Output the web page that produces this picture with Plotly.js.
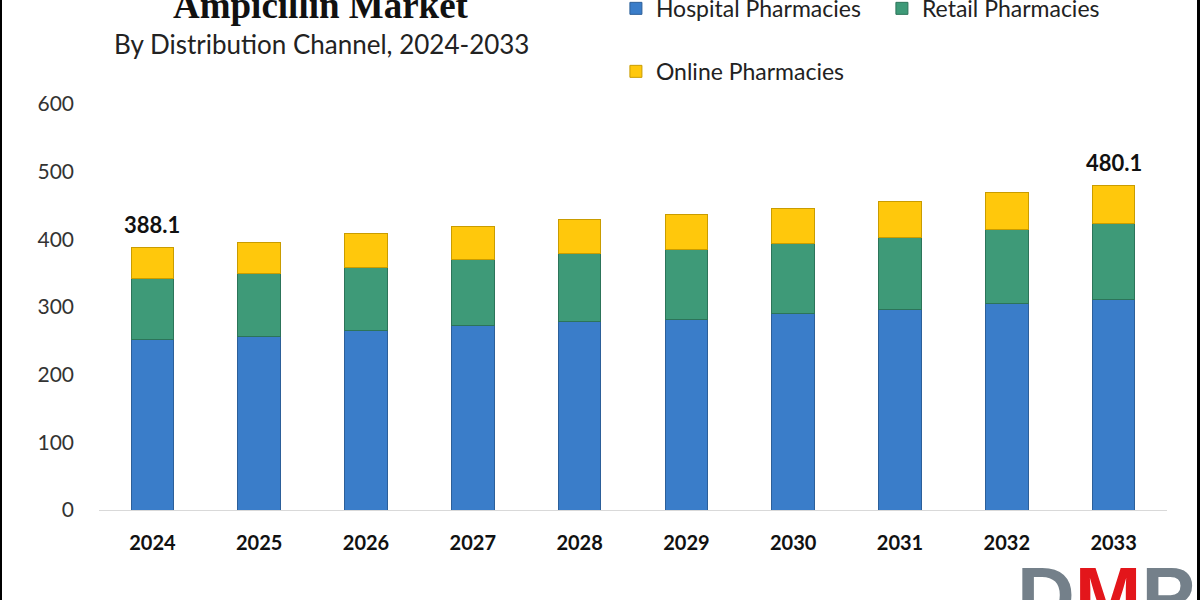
<!DOCTYPE html>
<html>
<head>
<meta charset="utf-8">
<script src="https://cdn.plot.ly/plotly-3.0.1.min.js"></script>
<style>html,body{margin:0;padding:0;background:#fff;}#chart{width:1200px;height:600px;}</style>
</head>
<body>
<div id="chart"></div>
<script>
const years = ['2024','2025','2026','2027','2028','2029','2030','2031','2032','2033'];
const hospital = [252, 256, 265, 273, 278, 282, 290, 296, 305, 311];
const retail   = [90, 93, 94, 97, 101, 103, 104, 107, 110, 113];
const online   = [46.1, 46, 49, 49, 50, 52, 52, 53, 54, 56.1];
const labelYears = ['2024', '2033'];
const labelTexts = ['388.1', '480.1'];
const yTicks = [0, 100, 200, 300, 400, 500, 600];

const FONT = 'Lato, "Open Sans", sans-serif';

const traces = [
  {type:'bar', name:'Hospital Pharmacies', x:years, y:hospital,
   marker:{color:'#3a7dc9', line:{color:'#2c5f99', width:1}}, legend:'legend'},
  {type:'bar', name:'Retail Pharmacies', x:years, y:retail,
   marker:{color:'#3e9a78', line:{color:'#2c7459', width:1}}, legend:'legend'},
  {type:'bar', name:'Online Pharmacies', x:years, y:online,
   marker:{color:'#ffc80c', line:{color:'#c99c00', width:1}}, legend:'legend2'}
];

const totals = years.map((_, i) => hospital[i] + retail[i] + online[i]);
const annotations = labelYears.map((yr, k) => ({
  x: years.indexOf(yr), y: totals[years.indexOf(yr)], xref:'x', yref:'y',
  text: '<b>' + labelTexts[k] + '</b>', showarrow:false,
  xanchor:'center', yanchor:'bottom', yshift:7,
  font:{family:FONT, size:22, color:'#111'}
}));

annotations.push({
  x:0.208, y:1.242, xref:'paper', yref:'paper', showarrow:false,
  text:'<b>Ampicillin Market</b>', xanchor:'center', yanchor:'middle',
  font:{family:'"Liberation Serif", "Times New Roman", serif', size:37, color:'#111'}
});
annotations.push({
  x:0.208, y:1.148, xref:'paper', yref:'paper', showarrow:false,
  text:'By Distribution Channel, 2024-2033', xanchor:'center', yanchor:'middle',
  font:{family:FONT, size:26, color:'#222'}
});
annotations.push({
  x:0.943, y:-0.095, xref:'paper', yref:'paper', showarrow:false,
  text:'<span style="color:#74808a">D</span><span style="color:#e3161b">M</span><span style="color:#74808a">P</span>',
  xanchor:'center', yanchor:'top',
  font:{family:'"Liberation Sans", Arial, sans-serif', size:80, color:'#74808a', weight:'bold'}
});

const layout = {
  width:1200, height:600,
  margin:{l:99, r:33, t:104, b:90},
  paper_bgcolor:'#fff', plot_bgcolor:'#fff',
  barmode:'stack', bargap:0.6,
  font:{family:FONT, color:'#222'},
  xaxis:{type:'category', range:[-0.5, 9.5], autorange:false, showgrid:false, showline:true,
         linecolor:'#d9d9d9', linewidth:1,
         ticks:'', tickfont:{family:FONT, size:20, color:'#111', weight:'bold'}, ticklabelstandoff:15},
  yaxis:{range:[0,600], autorange:false, tickvals:yTicks, showgrid:false, zeroline:false, showline:false,
         ticks:'', tickfont:{family:FONT, size:21, color:'#333'}, ticklabelstandoff:24},
  legend:{orientation:'h', traceorder:'normal', xref:'paper', x:0.484, xanchor:'left',
          yref:'container', y:0.986, yanchor:'middle',
          entrywidth:221, entrywidthmode:'pixels', font:{family:FONT, size:23, color:'#222'},
          bgcolor:'rgba(0,0,0,0)'},
  legend2:{orientation:'h', traceorder:'normal', xref:'paper', x:0.484, xanchor:'left',
          yref:'container', y:0.881, yanchor:'middle',
          font:{family:FONT, size:23, color:'#222'}, bgcolor:'rgba(0,0,0,0)'},
  showlegend:true,
  annotations:annotations,
  shapes:[
    {type:'rect', xref:'paper', yref:'paper', x0:-99/1068, x1:-97/1068, y0:-90/406, y1:1+104/406,
     fillcolor:'#000', line:{width:0}, layer:'above'},
    {type:'rect', xref:'paper', yref:'paper', x0:1+30/1068, x1:1+33/1068, y0:-90/406, y1:1+104/406,
     fillcolor:'#000', line:{width:0}, layer:'above'}
  ]
};

Plotly.newPlot('chart', traces, layout, {displayModeBar:false, staticPlot:true});
</script>
</body>
</html>
